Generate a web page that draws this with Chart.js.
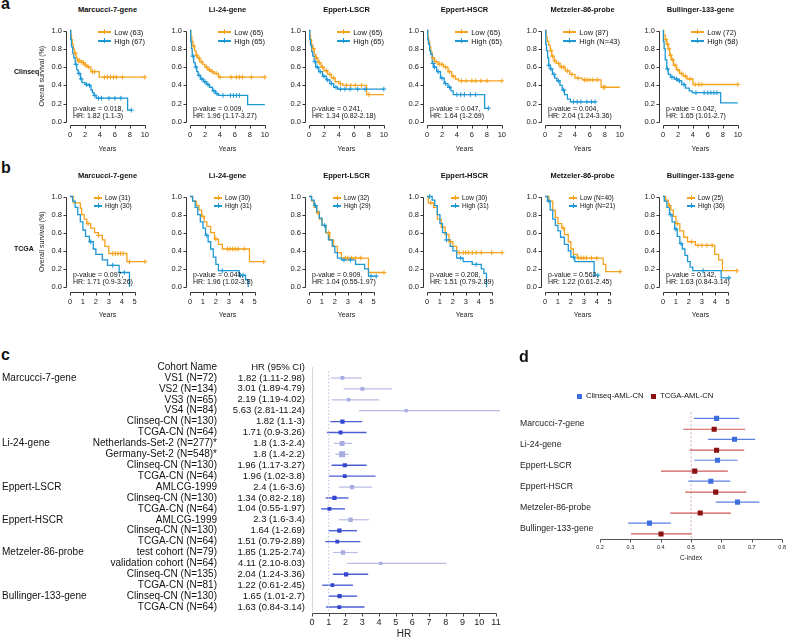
<!DOCTYPE html>
<html><head><meta charset="utf-8">
<script src="https://cdn.jsdelivr.net/npm/chart.js@4.4.1/dist/chart.umd.min.js"></script>
<style>
html,body{margin:0;padding:0;background:#fff;}
#root{position:relative;width:791px;height:640px;overflow:hidden;font-family:"Liberation Sans",Arial,Helvetica,sans-serif;color:#111;}
canvas{position:absolute;}
.t{position:absolute;white-space:nowrap;line-height:1.2;}
.lg{position:absolute;white-space:nowrap;color:#111;}
.lg div{display:flex;align-items:center;}
.sw{position:relative;display:inline-block;height:1.3px;margin-right:3px;}
.sw i{position:absolute;left:50%;top:-2px;width:1px;height:5px;margin-left:-0.5px;}
.sq{position:absolute;width:5px;height:5px;}
</style></head><body><div id="root"></div>
<script>
// ---------------- DATA ----------------
const kmTitles = ['Marcucci-7-gene','Li-24-gene','Eppert-LSCR','Eppert-HSCR','Metzeler-86-probe','Bullinger-133-gene'];
const kmYTicks = [0,0.2,0.4,0.6,0.8,1.0];
const kmYLabels = ['0.0','0.2','0.4','0.6','0.8','1.0'];
const csXTicks = [0,2,4,6,8,10];
const tgXTicks = [0,1,2,3,4,5];

// Clinseq curves: [years, survival]
const csMar_low = [[0,1],[0.1,0.95],[0.2,0.9],[0.3,0.85],[0.45,0.8],[0.6,0.75],[0.8,0.7],[1.0,0.67],[1.5,0.65],[2.0,0.62],[2.3,0.6],[2.8,0.55],[3.9,0.49],[10,0.49]];
const csMar_lowC = [0.7,1.1,1.3,1.6,1.8,2.1,2.5,3.0,3.3,4.6,5.0,5.4,5.8,6.2,7.0,10];
const csMar_high = [[0,1],[0.1,0.9],[0.2,0.82],[0.35,0.75],[0.5,0.7],[0.7,0.63],[0.9,0.57],[1.1,0.53],[1.4,0.47],[1.6,0.43],[2.0,0.41],[2.5,0.4],[2.8,0.35],[3.0,0.32],[3.2,0.29],[3.5,0.26],[7.7,0.13],[8.2,0.13]];
const csMar_highC = [0.8,1.2,1.5,2.2,2.6,3.3,3.8,4.2,5.2,6.0,6.8,8.2];
const csLi_low = [[0,1],[0.1,0.93],[0.25,0.88],[0.4,0.83],[0.6,0.78],[0.8,0.73],[1.0,0.7],[1.3,0.66],[1.7,0.63],[2.0,0.6],[2.4,0.57],[2.8,0.55],[3.2,0.53],[3.8,0.49],[10,0.49]];
const csLi_lowC = [0.5,0.9,1.2,1.5,2.2,2.6,3.0,3.5,4.0,5.5,6.2,6.6,7.0,8.2,10];
const csLi_high = [[0,1],[0.1,0.88],[0.2,0.8],[0.3,0.72],[0.5,0.65],[0.7,0.6],[0.9,0.55],[1.1,0.51],[1.4,0.47],[1.8,0.44],[2.2,0.41],[2.6,0.38],[3.0,0.34],[3.4,0.31],[3.8,0.29],[7.7,0.19],[10,0.19]];
const csLi_highC = [0.4,0.8,1.2,1.6,2.0,2.4,3.2,3.6,4.4,5.4,5.8,6.2,6.6];
const csLscr_low = [[0,1],[0.1,0.94],[0.2,0.9],[0.35,0.84],[0.5,0.8],[0.7,0.74],[0.9,0.7],[1.2,0.65],[1.6,0.6],[2.0,0.56],[2.5,0.52],[3.0,0.48],[3.5,0.44],[4.0,0.42],[4.5,0.4],[7.7,0.3],[10,0.3]];
const csLscr_lowC = [0.6,1.0,1.4,1.8,2.3,2.8,3.3,4.2,5.0,5.6,6.2,7.0,8.0];
const csLscr_high = [[0,1],[0.1,0.9],[0.2,0.84],[0.35,0.77],[0.5,0.72],[0.7,0.66],[0.9,0.6],[1.3,0.55],[1.8,0.5],[2.3,0.46],[2.8,0.42],[3.3,0.38],[3.8,0.36],[10,0.36]];
const csLscr_highC = [0.8,1.1,1.5,2.0,2.5,3.0,3.6,4.2,4.8,5.5,6.5,7.5,10];
const csHscr_low = [[0,1],[0.1,0.93],[0.2,0.88],[0.35,0.82],[0.5,0.76],[0.7,0.7],[1.0,0.66],[1.5,0.63],[2.2,0.6],[2.8,0.55],[3.3,0.5],[3.8,0.47],[4.2,0.45],[10,0.45]];
const csHscr_lowC = [0.8,1.2,1.7,2.0,2.5,3.0,3.5,4.6,5.2,6.0,6.5,7.2,8.0,10];
const csHscr_high = [[0,1],[0.1,0.9],[0.2,0.85],[0.35,0.78],[0.5,0.74],[0.7,0.64],[0.9,0.6],[1.3,0.55],[1.8,0.48],[2.3,0.42],[2.8,0.38],[3.2,0.34],[3.5,0.3],[7.7,0.15],[8.2,0.15]];
const csHscr_highC = [0.8,1.0,1.5,2.0,2.5,3.0,4.0,4.5,5.0,5.8,6.5,8.2];
const csMet_low = [[0,1],[0.15,0.93],[0.3,0.88],[0.5,0.84],[0.7,0.78],[0.9,0.72],[1.2,0.67],[1.5,0.64],[2.0,0.6],[2.7,0.56],[3.3,0.52],[4.0,0.48],[5.0,0.46],[7.5,0.38],[10,0.38]];
const csMet_lowC = [0.8,1.0,1.3,1.8,2.2,2.5,3.0,3.6,4.4,5.3,5.6,6.0,6.4,7.0,7.8,8.0];
const csMet_high = [[0,1],[0.1,0.85],[0.2,0.78],[0.35,0.7],[0.5,0.62],[0.7,0.58],[1.0,0.52],[1.3,0.48],[1.6,0.45],[2.0,0.4],[2.3,0.35],[2.6,0.3],[3.0,0.25],[3.4,0.22],[6.7,0.22]];
const csMet_highC = [0.5,0.8,1.2,1.8,2.5,3.8,4.3,4.8,5.6,6.2,6.7];
const csBul_low = [[0,1],[0.1,0.95],[0.3,0.9],[0.5,0.85],[0.7,0.8],[0.9,0.73],[1.1,0.68],[1.4,0.62],[1.8,0.57],[2.2,0.53],[2.7,0.5],[3.2,0.47],[4.0,0.41],[10,0.41]];
const csBul_lowC = [0.4,0.6,0.8,1.0,1.3,1.6,2.0,2.5,3.0,3.6,4.3,4.8,5.2,10];
const csBul_high = [[0,1],[0.05,0.88],[0.15,0.8],[0.3,0.68],[0.5,0.58],[0.7,0.52],[1.0,0.49],[1.5,0.47],[2.0,0.45],[2.5,0.41],[3.0,0.37],[3.5,0.34],[3.9,0.32],[7.7,0.21],[10,0.21]];
const csBul_highC = [0.6,1.2,1.8,2.2,2.8,4.4,5.5,6.0,6.4,6.8,7.2];

// TCGA curves
const tgMar_low = [[0,1],[0.25,0.93],[0.8,0.87],[0.9,0.8],[1.1,0.75],[1.3,0.7],[1.6,0.65],[1.9,0.6],[2.2,0.57],[2.5,0.52],[2.7,0.45],[3.0,0.37],[4.4,0.28],[5.8,0.28]];
const tgMar_lowC = [1.4,2.2,3.3,3.5,3.7,3.9,4.1,4.6,5.8];
const tgMar_high = [[0,1],[0.2,0.95],[0.4,0.88],[0.6,0.8],[0.8,0.72],[1.0,0.63],[1.2,0.56],[1.5,0.5],[1.8,0.42],[2.0,0.36],[2.5,0.3],[2.9,0.24],[3.8,0.16],[4.6,0.0]];
const tgMar_highC = [1.6,3.3,4.2];
const tgLi_low = [[0,1],[0.2,0.95],[0.5,0.9],[0.7,0.85],[0.9,0.78],[1.1,0.72],[1.3,0.67],[1.6,0.6],[1.9,0.53],[2.2,0.47],[2.5,0.42],[4.6,0.28],[5.7,0.28]];
const tgLi_lowC = [1.0,2.0,2.9,3.1,3.3,3.5,3.7,4.2,5.7];
const tgLi_high = [[0,1],[0.2,0.95],[0.4,0.88],[0.6,0.8],[0.8,0.72],[1.0,0.65],[1.2,0.57],[1.4,0.5],[1.6,0.42],[1.8,0.33],[2.0,0.25],[2.2,0.18],[3.8,0.13],[4.3,0.08],[4.5,0.0]];
const tgLi_highC = [1.3,2.5,3.9,4.1];
const tgLscr_low = [[0,1],[0.2,0.95],[0.4,0.88],[0.6,0.82],[0.8,0.75],[1.0,0.68],[1.3,0.6],[1.6,0.52],[1.9,0.45],[2.2,0.38],[2.5,0.32],[4.6,0.16],[5.8,0.16]];
const tgLscr_lowC = [0.7,1.5,2.8,3.0,3.3,3.6,4.0,5.8];
const tgLscr_high = [[0,1],[0.2,0.96],[0.4,0.9],[0.6,0.83],[0.8,0.76],[1.0,0.68],[1.3,0.6],[1.5,0.52],[1.8,0.45],[2.0,0.38],[2.2,0.32],[2.5,0.3],[3.6,0.25],[4.3,0.2],[4.6,0.12],[5.2,0.12]];
const tgLscr_highC = [0.5,1.2,2.7,3.2,4.8,5.2];
const tgHscr_low = [[0,1],[0.1,0.93],[0.5,0.88],[0.8,0.75],[1.1,0.66],[1.4,0.58],[1.7,0.5],[2.0,0.45],[2.3,0.38],[5.8,0.38]];
const tgHscr_lowC = [0.3,1.8,2.5,2.8,3.0,3.2,3.5,3.8,4.2,5.0,5.8];
const tgHscr_high = [[0,1],[0.4,0.96],[0.6,0.9],[0.8,0.8],[1.0,0.7],[1.2,0.6],[1.5,0.52],[1.8,0.45],[2.0,0.4],[2.3,0.32],[2.8,0.28],[3.5,0.25],[4.2,0.2],[4.4,0.15],[4.6,0.0]];
const tgHscr_highC = [0.2,1.5,2.6,3.8];
const tgMet_low = [[0,1],[0.3,0.95],[0.6,0.85],[0.8,0.77],[1.0,0.7],[1.3,0.65],[1.5,0.58],[1.8,0.5],[2.0,0.42],[2.2,0.36],[2.5,0.32],[4.5,0.25],[4.7,0.17],[5.8,0.17]];
const tgMet_lowC = [1.4,2.6,2.8,3.0,3.2,3.6,4.0,5.8];
const tgMet_high = [[0,1],[0.2,0.95],[0.4,0.85],[0.6,0.75],[0.8,0.68],[1.0,0.62],[1.2,0.55],[1.5,0.47],[1.8,0.4],[2.0,0.33],[2.3,0.28],[3.8,0.13],[4.1,0.13]];
const tgMet_highC = [0.3,2.2,4.1];
const tgBul_low = [[0,1],[0.2,0.96],[0.4,0.9],[0.6,0.85],[0.8,0.78],[1.0,0.7],[1.3,0.62],[1.6,0.55],[1.9,0.5],[2.5,0.46],[4.0,0.36],[4.3,0.3],[4.6,0.18],[5.7,0.18]];
const tgBul_lowC = [0.5,1.1,2.2,2.7,3.0,3.4,3.8,5.7];
const tgBul_high = [[0,1],[0.1,0.95],[0.3,0.88],[0.5,0.8],[0.7,0.72],[0.9,0.64],[1.1,0.56],[1.3,0.48],[1.5,0.42],[1.7,0.35],[1.9,0.28],[2.1,0.22],[2.3,0.18],[4.5,0.1],[5.2,0.1]];
const tgBul_highC = [0.6,1.0,1.4,3.1,5.1];

const csLowLabels = ['Low (63)','Low (65)','Low (65)','Low (65)','Low (87)','Low (72)'];
const csHighLabels = ['High (67)','High (65)','High (65)','High (65)','High (N=43)','High (58)'];
const tgLowLabels = ['Low (31)','Low (30)','Low (32)','Low (30)','Low (N=40)','Low (25)'];
const tgHighLabels = ['High (30)','High (31)','High (29)','High (31)','High (N=21)','High (36)'];
const csPvals = ['0.018','0.009','0.241','0.047','0.004','0.042'];
const csHRs = ['1.82 (1.1-3)','1.96 (1.17-3.27)','1.34 (0.82-2.18)','1.64 (1-2.69)','2.04 (1.24-3.36)','1.65 (1.01-2.7)'];
const tgPvals = ['0.097','0.041','0.909','0.208','0.562','0.142'];
const tgHRs = ['1.71 (0.9-3.26)','1.96 (1.02-3.8)','1.04 (0.55-1.97)','1.51 (0.79-2.89)','1.22 (0.61-2.45)','1.63 (0.84-3.14)'];

// Forest plot (panel c)
const fpGroupLabels = ['Marcucci-7-gene','','','','','','Li-24-gene','','','','Eppert-LSCR','','','Eppert-HSCR','','','Metzeler-86-probe','','','','Bullinger-133-gene',''];
const fpCohorts = ['VS1 (N=72)','VS2 (N=134)','VS3 (N=65)','VS4 (N=84)','Clinseq-CN (N=130)','TCGA-CN (N=64)','Netherlands-Set-2 (N=277)*','Germany-Set-2 (N=548)*','Clinseq-CN (N=130)','TCGA-CN (N=64)','AMLCG-1999','Clinseq-CN (N=130)','TCGA-CN (N=64)','AMLCG-1999','Clinseq-CN (N=130)','TCGA-CN (N=64)','test cohort (N=79)','validation cohort (N=64)','Clinseq-CN (N=135)','TCGA-CN (N=81)','Clinseq-CN (N=130)','TCGA-CN (N=64)'];
const fpHRText = ['1.82 (1.11-2.98)','3.01 (1.89-4.79)','2.19 (1.19-4.02)','5.63 (2.81-11.24)','1.82 (1.1-3)','1.71 (0.9-3.26)','1.8 (1.3-2.4)','1.8 (1.4-2.2)','1.96 (1.17-3.27)','1.96 (1.02-3.8)','2.4 (1.6-3.6)','1.34 (0.82-2.18)','1.04 (0.55-1.97)','2.3 (1.6-3.4)','1.64 (1-2.69)','1.51 (0.79-2.89)','1.85 (1.25-2.74)','4.11 (2.10-8.03)','2.04 (1.24-3.36)','1.22 (0.61-2.45)','1.65 (1.01-2.7)','1.63 (0.84-3.14)'];
const fpHR = [1.82,3.01,2.19,5.63,1.82,1.71,1.8,1.8,1.96,1.96,2.4,1.34,1.04,2.3,1.64,1.51,1.85,4.11,2.04,1.22,1.65,1.63];
const fpLo = [1.11,1.89,1.19,2.81,1.1,0.9,1.3,1.4,1.17,1.02,1.6,0.82,0.55,1.6,1,0.79,1.25,2.10,1.24,0.61,1.01,0.84];
const fpHi = [2.98,4.79,4.02,11.24,3,3.26,2.4,2.2,3.27,3.8,3.6,2.18,1.97,3.4,2.69,2.89,2.74,8.03,3.36,2.45,2.7,3.14];
const fpKind = ['prior','prior','prior','prior','own','own','prior','prior','own','own','prior','own','own','prior','own','own','prior','prior','own','own','own','own'];
const fpHeaders = ['Cohort Name','HR (95% CI)'];
const fpXTicks = [0,1,2,3,4,5,6,7,8,9,10,11];
const fpRefLines = [0,1];

// C-index (panel d)
const dGenes = ['Marcucci-7-gene','Li-24-gene','Eppert-LSCR','Eppert-HSCR','Metzeler-86-probe','Bullinger-133-gene'];
const dClinseq = [0.584,0.643,0.587,0.565,0.653,0.363];
const dClinseqLo = [0.509,0.556,0.511,0.491,0.581,0.293];
const dClinseqHi = [0.659,0.711,0.653,0.629,0.725,0.433];
const dTcga = [0.576,0.584,0.512,0.581,0.530,0.401];
const dTcgaLo = [0.474,0.495,0.401,0.481,0.431,0.302];
const dTcgaHi = [0.678,0.675,0.621,0.682,0.631,0.502];
const dXTicks = [0.2,0.3,0.4,0.5,0.6,0.7,0.8];
const dXLabels = ['0.2','0.3','0.4','0.5','0.6','0.7','0.8'];
const dSeries = ['Clinseq-AML-CN','TCGA-AML-CN'];
const dRef = 0.5;

// ---------------- RENDER ----------------
const ORANGE = '#F5A31F', BLUE = '#1E98D5';
const FONT = '"Liberation Sans", Arial, Helvetica, sans-serif';
Chart.defaults.font.family = FONT;
Chart.defaults.color = '#222';
const root = document.getElementById('root');

const rAxes = {
  id: 'rAxes',
  afterDraw(chart, args, o) {
    if (!o || (!o.x && !o.y)) return;
    const ctx = chart.ctx, ca = chart.chartArea;
    ctx.save(); ctx.strokeStyle = o.color || '#333'; ctx.lineWidth = o.lw || 1; ctx.beginPath();
    if (o.x) {
      const s = chart.scales[o.x]; const yy = Math.round(ca.bottom + (o.offY || 0)) + 0.5;
      const px = s.ticks.map(t => Math.round(s.getPixelForValue(t.value)) + 0.5);
      ctx.moveTo(px[0], yy); ctx.lineTo(px[px.length - 1], yy);
      px.forEach(p => { ctx.moveTo(p, yy); ctx.lineTo(p, yy + o.tl); });
    }
    if (o.y) {
      const s = chart.scales[o.y]; const xx = Math.round(ca.left - (o.offX || 0)) - 0.5;
      const py = s.ticks.map(t => Math.round(s.getPixelForValue(t.value)) + 0.5);
      ctx.moveTo(xx, py[0]); ctx.lineTo(xx, py[py.length - 1]);
      py.forEach(p => { ctx.moveTo(xx, p); ctx.lineTo(xx - o.tl, p); });
    }
    ctx.stroke(); ctx.restore();
  }
};
Chart.register(rAxes);

function mkCanvas(left, top, w, h) {
  const c = document.createElement('canvas');
  c.width = w; c.height = h;
  c.style.left = left + 'px'; c.style.top = top + 'px';
  c.style.width = w + 'px'; c.style.height = h + 'px';
  root.appendChild(c); return c;
}
function addText(x, y, str, size, opt) {
  opt = opt || {};
  const d = document.createElement('div'); d.className = 't'; d.textContent = str;
  d.style.fontSize = size + 'px'; d.style.top = (y - size * 0.6) + 'px';
  if (opt.bold) d.style.fontWeight = 'bold';
  const al = opt.align || 'left';
  if (al === 'left') d.style.left = x + 'px';
  else if (al === 'center') { d.style.left = x + 'px'; d.style.transform = 'translateX(-50%)'; }
  else d.style.right = (791 - x) + 'px';
  if (opt.color) d.style.color = opt.color;
  root.appendChild(d); return d;
}
function addLetter(x, baseline, str) {
  const d = document.createElement('div'); d.className = 't'; d.textContent = str;
  d.style.fontSize = '16px'; d.style.fontWeight = 'bold';
  d.style.left = x + 'px'; d.style.top = (baseline - 0.9465 * 16) + 'px';
  root.appendChild(d);
}
function addLegend(x, y, align, items, size, lineLen, gap) {
  const d = document.createElement('div'); d.className = 'lg';
  d.style.fontSize = size + 'px'; d.style.lineHeight = gap + 'px';
  d.style.top = (y - gap / 2) + 'px';
  if (align === 'right') d.style.right = (791 - x) + 'px'; else d.style.left = x + 'px';
  items.forEach(([label, color]) => {
    const row = document.createElement('div');
    const sw = document.createElement('span'); sw.className = 'sw';
    sw.style.width = lineLen + 'px'; sw.style.background = color;
    const tk = document.createElement('i'); tk.style.background = color; sw.appendChild(tk);
    row.appendChild(sw); row.appendChild(document.createTextNode(label));
    d.appendChild(row);
  });
  root.appendChild(d);
}
function survAt(curve, t) { let s = 1; curve.forEach(p => { if (p[0] <= t) s = p[1]; }); return s; }

const kmX0 = [70, 190, 309, 427, 545, 663];
const kmRows = [
  { yTop: 26, yBot: 122, xmax: 10, xt: csXTicks, B: 31, pad: 8, offY: 3, titleY: 9.5, label: 'Clinseq', labelY: 72,
    low: [csMar_low, csLi_low, csLscr_low, csHscr_low, csMet_low, csBul_low],
    lowC: [csMar_lowC, csLi_lowC, csLscr_lowC, csHscr_lowC, csMet_lowC, csBul_lowC],
    high: [csMar_high, csLi_high, csLscr_high, csHscr_high, csMet_high, csBul_high],
    highC: [csMar_highC, csLi_highC, csLscr_highC, csHscr_highC, csMet_highC, csBul_highC],
    lowL: csLowLabels, highL: csHighLabels, pv: csPvals, hr: csHRs },
  { yTop: 192, yBot: 287, xmax: 5.8, xt: tgXTicks, B: 32, pad: 10, offY: 4.5, titleY: 175, label: 'TCGA', labelY: 249,
    low: [tgMar_low, tgLi_low, tgLscr_low, tgHscr_low, tgMet_low, tgBul_low],
    lowC: [tgMar_lowC, tgLi_lowC, tgLscr_lowC, tgHscr_lowC, tgMet_lowC, tgBul_lowC],
    high: [tgMar_high, tgLi_high, tgLscr_high, tgHscr_high, tgMet_high, tgBul_high],
    highC: [tgMar_highC, tgLi_highC, tgLscr_highC, tgHscr_highC, tgMet_highC, tgBul_highC],
    lowL: tgLowLabels, highL: tgHighLabels, pv: tgPvals, hr: tgHRs }
];

function kmPanel(r, k) {
  const R = kmRows[r], x0 = kmX0[k], W = 75;
  const L = k === 0 ? 32 : 30, T = 8, RP = 12;
  const H = R.yBot - R.yTop;
  const c = mkCanvas(x0 - L, R.yTop - T, L + W + RP, T + H + R.B);
  const low = R.low[k], high = R.high[k];
  const toXY = a => a.map(p => ({ x: p[0], y: p[1] }));
  const cens = (curve, ts) => ts.map(t => ({ x: t, y: survAt(curve, t) }));
  const censDs = (curve, ts, col) => ({ data: cens(curve, ts), showLine: false, pointStyle: 'cross', pointRadius: 2.4,
    pointBorderColor: col, borderColor: col, pointBorderWidth: 1, pointHoverRadius: 0, clip: 6 });
  const curveDs = (curve, col) => ({ data: toXY(curve), stepped: true, borderColor: col, borderWidth: 1.3, pointRadius: 0, pointHoverRadius: 0, fill: false, clip: 6 });
  new Chart(c, {
    type: 'line',
    data: { datasets: [censDs(high, R.highC[k], BLUE), censDs(low, R.lowC[k], ORANGE), curveDs(high, BLUE), curveDs(low, ORANGE)] },
    options: {
      animation: false, responsive: false, devicePixelRatio: 1, events: [],
      layout: { padding: { left: 0, top: T, right: RP, bottom: 0 } },
      plugins: { legend: { display: false }, tooltip: { enabled: false },
        rAxes: { x: 'x', y: 'y', offX: 3, offY: R.offY, tl: 3, color: '#333', lw: 1 } },
      scales: {
        x: { type: 'linear', min: 0, max: R.xmax,
          afterBuildTicks: s => { s.ticks = R.xt.map(v => ({ value: v })); },
          afterFit: s => { s.height = R.B; },
          grid: { display: false, drawTicks: false }, border: { display: false },
          ticks: { padding: R.pad, autoSkip: false, maxRotation: 0, font: { size: 7.5 }, color: '#222', callback: (v, i) => String(R.xt[i]) },
          title: { display: true, text: 'Years', padding: 0, font: { size: 7 }, color: '#222' } },
        y: { type: 'linear', min: 0, max: 1,
          afterBuildTicks: s => { s.ticks = kmYTicks.map(v => ({ value: v })); },
          afterFit: s => { s.width = L; },
          grid: { display: false, drawTicks: false }, border: { display: false },
          ticks: { padding: 8, autoSkip: false, font: { size: 7.5 }, color: '#222', callback: (v, i) => kmYLabels[i] },
          title: { display: k === 0, text: 'Overall survival (%)', padding: 0, font: { size: 7 }, color: '#222' } }
      }
    }
  });
  // text
  addText(x0 + 37.5, R.titleY, kmTitles[k], 7.5, { bold: true, align: 'center' });
  if (r === 0) {
    addLegend(x0 + 75, R.yTop + 6, 'right', [[R.lowL[k], ORANGE], [R.highL[k], BLUE]], 7.5, 13, 9);
    addText(x0 + 3, R.yBot - 13, 'p-value = ' + R.pv[k] + ',', 7);
    addText(x0 + 3, R.yBot - 6, 'HR: ' + R.hr[k], 7);
  } else {
    addLegend(x0 + 24, R.yTop + 6, 'left', [[R.lowL[k], ORANGE], [R.highL[k], BLUE]], 6.5, 8, 8);
    addText(x0 + 3, R.yBot - 12, 'p-value = ' + R.pv[k] + ',', 7);
    addText(x0 + 3, R.yBot - 4.5, 'HR: ' + R.hr[k], 7);
  }
}
for (let r = 0; r < 2; r++) {
  for (let k = 0; k < 6; k++) kmPanel(r, k);
  addText(14, kmRows[r].labelY, kmRows[r].label, 7, { bold: true });
}
addLetter(1, 9, 'a');
addLetter(1, 173, 'b');
addLetter(1, 360, 'c');
addLetter(519, 362, 'd');

// ---------- Forest plot ----------
(function () {
  const c = mkCanvas(0, 340, 510, 300);
  const LIGHT_L = '#b8bce6', LIGHT_M = '#a7ade0', DARK_L = '#4c5ed6', DARK_M = '#3347cc';
  const ds = [];
  ds.push({ data: [{ x: fpRefLines[0], y: -1 }, { x: fpRefLines[0], y: 21.5 }], borderColor: '#d2d2d2', borderWidth: 1, pointRadius: 0, yAxisID: 'yHR', xAxisID: 'x' });
  ds.push({ data: [{ x: fpRefLines[1], y: -0.6 }, { x: fpRefLines[1], y: 21.5 }], borderColor: '#b9bddb', borderWidth: 1, borderDash: [1.5, 2], pointRadius: 0, yAxisID: 'yHR', xAxisID: 'x' });
  const pts = [], radii = [], cols = [];
  fpHR.forEach((h, i) => {
    const own = fpKind[i] === 'own';
    ds.push({ data: [{ x: fpLo[i], y: i }, { x: fpHi[i], y: i }], borderColor: own ? DARK_L : LIGHT_L, borderWidth: own ? 1.4 : 1.2, pointRadius: 0, clip: false, yAxisID: 'yHR', xAxisID: 'x' });
    pts.push({ x: h, y: i });
    const side = 2 + 1.8 / Math.log(fpHi[i] / fpLo[i]);
    radii.push(side / 1.414 + (own ? 0.3 : 0));
    cols.push(own ? DARK_M : LIGHT_M);
  });
  ds.unshift({ data: pts, showLine: false, pointStyle: 'rect', pointRadius: radii, pointBackgroundColor: cols, pointBorderColor: cols, pointBorderWidth: 0, yAxisID: 'yHR', xAxisID: 'x' });
  const rowTicks = s => { const t = []; for (let i = -1; i < fpCohorts.length; i++) t.push({ value: i }); s.ticks = t; };
  const yBase = (w, weight, pad, cb, size, cross) => ({
    type: 'linear', position: 'left', weight: weight, min: -1.5, max: 21.5, reverse: true,
    afterBuildTicks: rowTicks, afterFit: s => { s.width = w; },
    grid: { display: false, drawTicks: false }, border: { display: false },
    ticks: { padding: pad, autoSkip: false, font: { size: size }, color: '#111', crossAlign: cross || 'near', callback: cb }
  });
  new Chart(c, {
    type: 'line',
    data: { datasets: ds },
    options: {
      animation: false, responsive: false, devicePixelRatio: 1, events: [],
      layout: { padding: { left: 2, top: 21.6, right: 14, bottom: 0 } },
      plugins: { legend: { display: false }, tooltip: { enabled: false }, rAxes: { x: 'x', offY: 0.5, tl: 3, color: '#444', lw: 1 } },
      scales: {
        x: { type: 'linear', min: 0, max: 11,
          afterBuildTicks: s => { s.ticks = fpXTicks.map(v => ({ value: v })); },
          afterFit: s => { s.height = 27.5; },
          grid: { display: false, drawTicks: false }, border: { display: false },
          ticks: { padding: 5, autoSkip: false, maxRotation: 0, font: { size: 9 }, color: '#222', callback: (v, i) => String(fpXTicks[i]) },
          title: { display: true, text: 'HR', padding: 0, font: { size: 10 }, color: '#222' } },
        yHR: yBase(95, 1, 7, v => v < 0 ? fpHeaders[1] : fpHRText[v], 9.5),
        yName: yBase(127, 2, 0, v => v < 0 ? fpHeaders[0] : fpCohorts[v], 10),
        yGroup: yBase(88, 3, 0, v => v < 0 ? '' : fpGroupLabels[v], 10, 'far')
      }
    }
  });
})();

// ---------- C-index plot ----------
(function () {
  const c = mkCanvas(515, 400, 276, 162);
  const CB = '#3d6ee0', CBL = '#5d80e3', CR = '#8b1010', CRL = '#cd5a5a';
  const OFF = 0.26;
  const ds = [];
  dClinseq.forEach((v, i) => {
    ds.push({ data: [{ x: dClinseqLo[i], y: i - OFF }, { x: dClinseqHi[i], y: i - OFF }], borderColor: CBL, borderWidth: 1.2, pointRadius: 0 });
    ds.push({ data: [{ x: dTcgaLo[i], y: i + OFF }, { x: dTcgaHi[i], y: i + OFF }], borderColor: CRL, borderWidth: 1.2, pointRadius: 0 });
  });
  ds.unshift({ label: dSeries[1], data: dTcga.map((v, i) => ({ x: v, y: i + OFF })), showLine: false, pointStyle: 'rect', pointRadius: 3.6, pointBackgroundColor: CR, pointBorderColor: CR, pointBorderWidth: 0 });
  ds.unshift({ label: dSeries[0], data: dClinseq.map((v, i) => ({ x: v, y: i - OFF })), showLine: false, pointStyle: 'rect', pointRadius: 3.6, pointBackgroundColor: CB, pointBorderColor: CB, pointBorderWidth: 0 });
  ds.push({ data: [{ x: dRef, y: -0.55 }, { x: dRef, y: 5.5 }], borderColor: '#d9a9c4', borderWidth: 1, borderDash: [2, 2], pointRadius: 0 });
  new Chart(c, {
    type: 'line',
    data: { datasets: ds },
    options: {
      animation: false, responsive: false, devicePixelRatio: 1, events: [],
      layout: { padding: { left: 5, top: 8.1, right: 4, bottom: 0 } },
      plugins: { legend: { display: false }, tooltip: { enabled: false }, rAxes: { x: 'x', offY: 0, tl: 3, color: '#555', lw: 1 } },
      scales: {
        x: { type: 'linear', min: 0.2, max: 0.8,
          afterBuildTicks: s => { s.ticks = dXTicks.map(v => ({ value: v })); },
          afterFit: s => { s.height = 23; },
          grid: { display: false, drawTicks: false }, border: { display: false },
          ticks: { padding: 5, autoSkip: false, maxRotation: 0, font: { size: 5.5 }, color: '#222', callback: (v, i) => dXLabels[i] },
          title: { display: true, text: 'C-index', padding: 0, font: { size: 6.5 }, color: '#222' } },
        y: { type: 'linear', position: 'left', min: -0.75, max: 5.5, reverse: true,
          afterBuildTicks: s => { s.ticks = dGenes.map((g, i) => ({ value: i })); },
          afterFit: s => { s.width = 80; },
          grid: { display: false, drawTicks: false }, border: { display: false },
          ticks: { padding: 0, autoSkip: false, crossAlign: 'far', font: { size: 8.7 }, color: '#222', callback: (v, i) => dGenes[i] } }
      }
    }
  });
  // legend
  const sq1 = document.createElement('div'); sq1.className = 'sq'; sq1.style.left = '577px'; sq1.style.top = '393.5px'; sq1.style.background = CB; root.appendChild(sq1);
  addText(586, 396, dSeries[0], 7.7);
  const sq2 = document.createElement('div'); sq2.className = 'sq'; sq2.style.left = '651px'; sq2.style.top = '393.5px'; sq2.style.background = CR; root.appendChild(sq2);
  addText(660, 396, dSeries[1], 7.7);
})();
</script></body></html>
